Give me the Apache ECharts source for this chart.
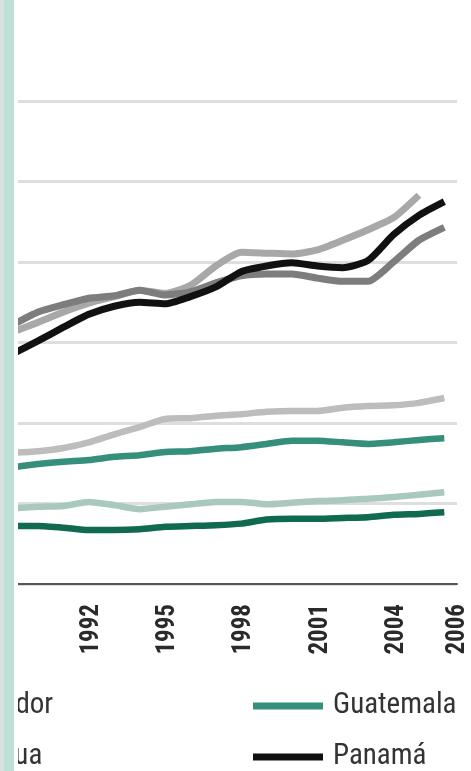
<!DOCTYPE html>
<html><head><meta charset="utf-8">
<script src="https://cdn.jsdelivr.net/npm/echarts@6/dist/echarts.min.js"></script>
<style>html,body{margin:0;padding:0;background:#fff}#c{width:471px;height:771px}</style>
</head><body><div id="c"></div>
<script>
const years = ['1989','1990','1991','1992','1993','1994','1995','1996','1997','1998','1999','2000','2001','2002','2003','2004','2005','2006'];
const tickLabels = ['1992','1995','1998','2001','2004','2006'];
const costaRica   = [32.2,33.8,34.7,35.5,35.8,36.5,35.9,36.3,37.4,38.3,38.5,38.5,38.0,37.6,37.6,40.0,42.7,44.3];
const americaLatina = [31.3,32.5,33.8,34.9,35.7,36.5,36.1,37.1,39.5,41.2,41.1,41.0,41.5,42.7,44.0,45.5,48.3,null];
const elSalvador  = [16.3,16.5,16.9,17.6,18.6,19.5,20.5,20.6,20.9,21.1,21.4,21.5,21.5,21.9,22.1,22.2,22.5,23.1];
const guatemala   = [14.5,14.9,15.2,15.4,15.8,16.0,16.4,16.5,16.8,17.0,17.4,17.8,17.8,17.6,17.4,17.6,17.9,18.1];
const honduras    = [9.4,9.6,9.7,10.2,9.8,9.3,9.6,9.9,10.2,10.2,9.9,10.1,10.3,10.4,10.6,10.8,11.1,11.4];
const nicaragua   = [7.2,7.2,7.0,6.7,6.7,6.8,7.1,7.2,7.3,7.5,8.0,8.1,8.1,8.2,8.3,8.6,8.7,8.9];
const panama      = [28.6,30.2,31.9,33.5,34.5,35.0,34.8,35.7,36.9,38.8,39.5,39.9,39.5,39.3,40.2,43.4,45.8,47.5];

const FONT = "'Roboto Condensed', 'Open Sans', sans-serif";
const chart = echarts.init(document.getElementById('c'), null, {renderer: 'canvas'});
function line(name, data, color, width) {
  return {name: name, type: 'line', data: data, showSymbol: false, symbol: 'none',
    smooth: 0.2, lineStyle: {color: color, width: width}, itemStyle: {color: color},
    connectNulls: false, animation: false};
}
function legendItem(name, left, top) {
  return {data: [name], orient: 'horizontal', left: left, top: top, padding: 0,
    icon: 'rect', itemWidth: 70, itemHeight: 7,
    textStyle: {fontFamily: FONT, fontSize: 29, color: '#333', lineHeight: 32, padding: [0, 0, 0, 5]}};
}
chart.setOption({
  animation: false,
  grid: {left: -13, right: 14, top: 101, bottom: 187, containLabel: false},
  xAxis: {
    type: 'category', data: years, boundaryGap: true,
    axisLine: {lineStyle: {color: '#555', width: 2}},
    axisTick: {interval: 0, length: 9, lineStyle: {color: '#666', width: 2}},
    axisLabel: {
      interval: function (i, v) { return tickLabels.indexOf(v) >= 0; },
      formatter: function (v) { return v === '2006' ? '{e|' + v + '}' : '{n|' + v + '}'; },
      rich: {
        n: {fontFamily: FONT, fontSize: 25, fontWeight: 'bold', color: '#2a2a2a', padding: [6, 0, 0, 0]},
        e: {fontFamily: FONT, fontSize: 25, fontWeight: 'bold', color: '#2a2a2a', padding: [26, 0, 0, 0]}
      },
      rotate: 90, margin: 20, fontFamily: FONT, fontSize: 25, fontWeight: 'bold', color: '#2a2a2a'
    },
    splitLine: {show: false}
  },
  yAxis: {
    type: 'value', min: 0, max: 60, interval: 10,
    axisLine: {show: false}, axisTick: {show: false}, axisLabel: {show: false},
    splitLine: {lineStyle: {color: '#dedede', width: 3}}
  },
  legend: [
    legendItem('El Salvador', -154, 690),
    legendItem('Nicaragua', -154, 741),
    legendItem('Guatemala', 253, 690),
    legendItem('Panamá', 253, 741)
  ],
  series: [
    line('Nicaragua', nicaragua, '#0f6a50', 6.5),
    line('Honduras', honduras, '#a9c9bd', 6.5),
    line('Guatemala', guatemala, '#358f7b', 6.5),
    line('El Salvador', elSalvador, '#bdbdbd', 6.5),
    line('América Latina', americaLatina, '#a8a8a8', 7),
    line('Costa Rica', costaRica, '#7d7d7d', 7),
    line('Panamá', panama, '#111111', 7)
  ],
  graphic: [
    {type: 'rect', z: 100, shape: {x: 0, y: 0, width: 4, height: 771}, style: {fill: '#d5e3de'}},
    {type: 'rect', z: 100, shape: {x: 4, y: 0, width: 10, height: 771}, style: {fill: '#bfdfd6'}},
    {type: 'rect', z: 100, shape: {x: 14, y: 0, width: 4, height: 771}, style: {fill: '#ffffff'}}
  ]
});
</script>
</body></html>
